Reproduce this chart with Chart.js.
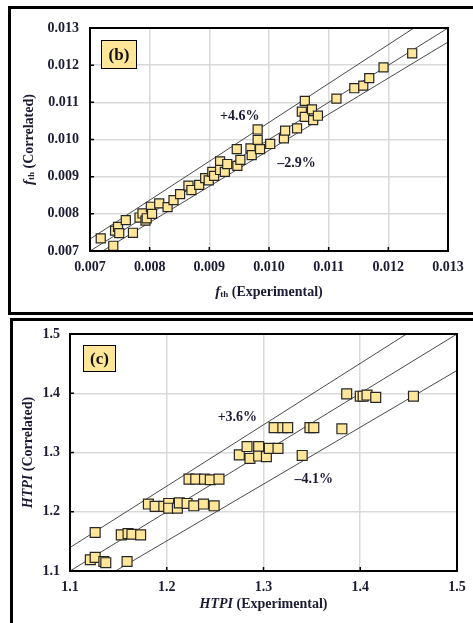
<!DOCTYPE html>
<html>
<head>
<meta charset="utf-8">
<script src="https://cdn.jsdelivr.net/npm/chart.js@4.4.0/dist/chart.umd.min.js"></script>
<style>
html, body { margin: 0; padding: 0; background: #fff; }
body { width: 473px; height: 623px; position: relative; overflow: hidden; }
canvas { position: absolute; left: 0; }
#chartB { top: 0; }
#chartC { top: 318px; }
.rule { position: absolute; background: #000; }
</style>
</head>
<body>
<canvas id="chartB" width="473" height="313"></canvas>
<canvas id="chartC" width="473" height="305"></canvas>
<div class="rule" style="left:8px;top:6px;width:465px;height:3px"></div>
<div class="rule" style="left:8px;top:6px;width:3px;height:309px"></div>
<div class="rule" style="left:8px;top:312px;width:465px;height:3px"></div>
<div class="rule" style="left:10px;top:318px;width:463px;height:2.5px"></div>
<div class="rule" style="left:10px;top:318px;width:3px;height:305px"></div>
<script>
// panel (b): friction factor f_th
const fthExp = [0.00718, 0.00739, 0.00742, 0.00747, 0.00749, 0.00760, 0.00772, 0.00783, 0.00788, 0.00793,
    0.00795, 0.00802, 0.00804, 0.00816, 0.00830, 0.00840, 0.00851, 0.00865, 0.00870, 0.00883,
    0.00893, 0.00899, 0.00905, 0.00908, 0.00918, 0.00918, 0.00926, 0.00930, 0.00946, 0.00947,
    0.00952, 0.00969, 0.00971, 0.00981, 0.00981, 0.00985, 0.01002, 0.01025, 0.01027, 0.01047,
    0.01055, 0.01060, 0.01060, 0.01072, 0.01074, 0.01082, 0.01113, 0.01143, 0.01158, 0.01168,
    0.01192, 0.01240];
const fthCor = [0.00734, 0.00714, 0.00755, 0.00765, 0.00748, 0.00783, 0.00749, 0.00790, 0.00801, 0.00782,
    0.00788, 0.00819, 0.00800, 0.00828, 0.00818, 0.00837, 0.00853, 0.00876, 0.00864, 0.00878,
    0.00896, 0.00890, 0.00913, 0.00902, 0.00941, 0.00918, 0.00913, 0.00934, 0.00974, 0.00929,
    0.00945, 0.00976, 0.00958, 0.01027, 0.00999, 0.00974, 0.00988, 0.01003, 0.01024, 0.01030,
    0.01075, 0.01104, 0.01061, 0.01081, 0.01052, 0.01064, 0.01110, 0.01138, 0.01145, 0.01165,
    0.01194, 0.01232];
const fthTicks = [0.007, 0.008, 0.009, 0.010, 0.011, 0.012, 0.013];
const fthBands = [1.046, 1, 0.971];
const fthNotes = ['+4.6%', '\u20132.9%'];
const fthNoteX = [0.00951, 0.01046];
const fthNoteY = [0.01061, 0.00936];

// panel (c): HTPI
const htpiExp = [1.126, 1.121, 1.126, 1.135, 1.137, 1.159, 1.153, 1.160, 1.164, 1.173,
    1.181, 1.188, 1.197, 1.202, 1.202, 1.211, 1.213, 1.221, 1.228, 1.238, 1.249,
    1.223, 1.230, 1.239, 1.245, 1.254,
    1.275, 1.283, 1.286, 1.295, 1.295, 1.303, 1.306, 1.315, 1.340,
    1.311, 1.320, 1.325, 1.348, 1.352, 1.381,
    1.386, 1.400, 1.403, 1.407, 1.416, 1.455];
const htpiCor = [1.165, 1.119, 1.123, 1.116, 1.114, 1.116, 1.161, 1.163, 1.162, 1.161,
    1.213, 1.209, 1.209, 1.214, 1.206, 1.206, 1.215, 1.214, 1.210, 1.213, 1.210,
    1.255, 1.255, 1.255, 1.254, 1.255,
    1.296, 1.310, 1.290, 1.310, 1.294, 1.293, 1.307, 1.307, 1.295,
    1.342, 1.342, 1.342, 1.342, 1.342, 1.340,
    1.399, 1.395, 1.395, 1.397, 1.393, 1.395];
const htpiTicks = [1.1, 1.2, 1.3, 1.4, 1.5];
const htpiBands = [1.036, 1, 0.959];
const htpiNotes = ['+3.6%', '\u20134.1%'];
const htpiNoteX = [1.273, 1.352];
const htpiNoteY = [1.359, 1.254];

const serif = '"Liberation Serif", "Times New Roman", serif';
const ink = '#1a1a33';

// per-canvas decoration: tag box (relative to chart area) and axis titles
const decorSettings = {
    chartB: {
        tag: '(b)', tagBox: [11, 12, 36, 29], tagSize: 17,
        notes: fthNotes, noteX: fthNoteX, noteY: fthNoteY,
        xTitleY: 292, yTitleX: 29,
        sym: [{ t: 'f', font: `italic bold 15px ${serif}` }, { t: 'th', font: `bold 9px ${serif}`, dy: 3 }]
    },
    chartC: {
        tag: '(c)', tagBox: [13, 11, 33, 27], tagSize: 17,
        notes: htpiNotes, noteX: htpiNoteX, noteY: htpiNoteY,
        xTitleY: 286, yTitleX: 28,
        sym: [{ t: 'HTPI', font: `italic bold 14px ${serif}` }]
    }
};

function drawRuns(ctx, runs, cx, cy) {
    let total = 0;
    runs.forEach(r => { ctx.font = r.font; r.w = ctx.measureText(r.t).width; total += r.w; });
    let x = cx - total / 2;
    ctx.textAlign = 'left';
    ctx.textBaseline = 'middle';
    runs.forEach(r => {
        ctx.font = r.font;
        ctx.fillText(r.t, x, cy + (r.dy || 0));
        x += r.w;
    });
}

const decor = {
    id: 'decor',
    afterDraw(chart) {
        const s = decorSettings[chart.canvas.id];
        const { ctx, chartArea: a, scales: { x, y } } = chart;
        ctx.save();

        // plot frame
        ctx.strokeStyle = '#000';
        ctx.lineWidth = 2;
        ctx.strokeRect(a.left, a.top, a.right - a.left, a.bottom - a.top);

        // inward tick marks on left and bottom axes
        ctx.lineWidth = 1.5;
        ctx.beginPath();
        x.ticks.forEach(t => {
            const px = x.getPixelForValue(t.value);
            ctx.moveTo(px, a.bottom); ctx.lineTo(px, a.bottom - 4);
        });
        y.ticks.forEach(t => {
            const py = y.getPixelForValue(t.value);
            ctx.moveTo(a.left, py); ctx.lineTo(a.left + 4, py);
        });
        ctx.stroke();

        // deviation labels
        ctx.fillStyle = ink;
        ctx.font = `bold 14px ${serif}`;
        ctx.textAlign = 'center';
        ctx.textBaseline = 'middle';
        s.notes.forEach((n, i) => {
            ctx.fillText(n, x.getPixelForValue(s.noteX[i]), y.getPixelForValue(s.noteY[i]));
        });

        // panel tag
        const [bx, by, bw, bh] = s.tagBox;
        ctx.fillStyle = '#FFE699';
        ctx.fillRect(a.left + bx, a.top + by, bw, bh);
        ctx.strokeStyle = '#000';
        ctx.lineWidth = 1;
        ctx.strokeRect(a.left + bx + 0.5, a.top + by + 0.5, bw - 1, bh - 1);
        ctx.fillStyle = '#111';
        ctx.font = `bold ${s.tagSize}px ${serif}`;
        ctx.textAlign = 'center';
        ctx.fillText(s.tag, a.left + bx + bw / 2, a.top + by + bh / 2 + 1);

        // axis titles
        ctx.fillStyle = ink;
        const plain = `bold 14px ${serif}`;
        const xRuns = s.sym.map(r => ({ ...r })).concat([{ t: ' (Experimental)', font: plain }]);
        drawRuns(ctx, xRuns, (a.left + a.right) / 2, s.xTitleY);
        const yRuns = s.sym.map(r => ({ ...r })).concat([{ t: ' (Correlated)', font: plain }]);
        ctx.translate(s.yTitleX, (a.top + a.bottom) / 2);
        ctx.rotate(-Math.PI / 2);
        drawRuns(ctx, yRuns, 0, 0);

        ctx.restore();
    }
};

function axis(ticks, digits, pad, isX) {
    const lo = ticks[0], hi = ticks[ticks.length - 1];
    return {
        type: 'linear',
        min: lo,
        max: hi,
        afterBuildTicks: sc => { sc.ticks = ticks.map(v => ({ value: v })); },
        afterFit: sc => {
            if (isX) { sc.height = 30; sc.paddingLeft = 0; sc.paddingRight = 0; }
            else { sc.width = 50; sc.paddingTop = 0; sc.paddingBottom = 0; }
        },
        grid: { color: '#d9d9d9', lineWidth: 1.5, drawTicks: false },
        border: { display: false },
        ticks: {
            padding: pad,
            color: ink,
            autoSkip: false,
            maxRotation: 0,
            font: { family: serif, size: 14, weight: 'bold' },
            callback: v => Number(v).toFixed(digits)
        }
    };
}

function makeChart(id, xs, ys, ticks, bands, digits, radius, padding, yPad) {
    const lo = ticks[0], hi = ticks[ticks.length - 1];
    const points = xs.map((v, i) => ({ x: v, y: ys[i] }));
    const lines = bands.map(k => ({
        type: 'line',
        data: [{ x: lo, y: lo * k }, { x: hi, y: hi * k }],
        borderColor: '#4a4a4a',
        borderWidth: 1,
        pointRadius: 0,
        fill: false,
        clip: 0
    }));
    new Chart(document.getElementById(id), {
        type: 'scatter',
        data: {
            datasets: [{
                data: points,
                pointStyle: 'rect',
                pointRadius: radius,
                backgroundColor: '#FFE699',
                borderColor: '#262626',
                borderWidth: 1.2
            }].concat(lines)
        },
        options: {
            responsive: false,
            animation: false,
            devicePixelRatio: 1,
            layout: { padding: padding, autoPadding: false },
            plugins: { legend: { display: false }, tooltip: { enabled: false } },
            scales: {
                x: axis(ticks, digits, 8, true),
                y: axis(ticks, digits, yPad, false)
            }
        },
        plugins: [decor]
    });
}

makeChart('chartB', fthExp, fthCor, fthTicks, fthBands, 3, 6.4,
    { left: 40, top: 28, right: 25, bottom: 32 }, 11);
makeChart('chartC', htpiExp, htpiCor, htpiTicks, htpiBands, 1, 7,
    { left: 20, top: 16, right: 16, bottom: 22 }, 10);
</script>
</body>
</html>
